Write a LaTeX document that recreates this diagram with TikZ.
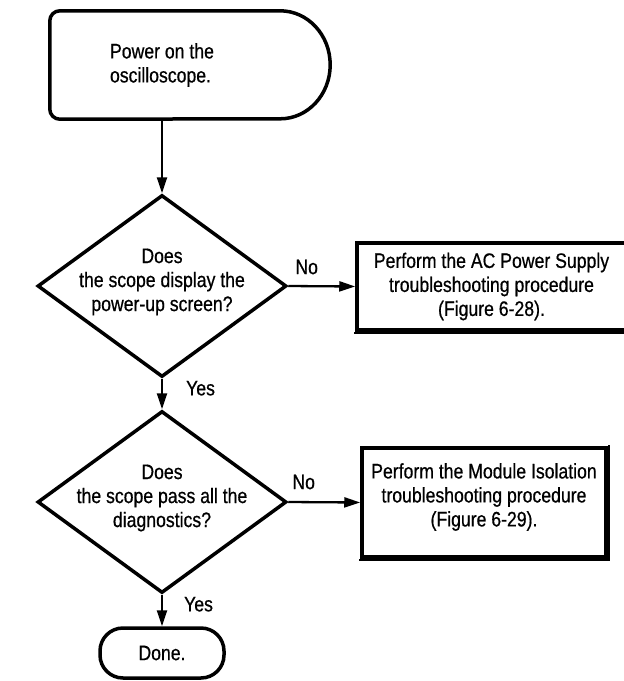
\documentclass[tikz,border=0pt]{standalone}
\usepackage{fontspec}
\setmainfont{Liberation Sans}[FakeStretch=0.84,FakeBold=0.6]
\usetikzlibrary{shapes.geometric,arrows.meta}

\tikzset{
  flow/.style={line width=3.5pt},
  decision/.style={flow,draw,diamond,minimum width=249pt,minimum height=182pt,inner sep=0pt},
  taskbox/.style={flow,draw,align=center,inner sep=0pt},
  qtext/.style={align=center,inner sep=0pt},
  arrow/.style={line width=2.3pt,-{Triangle[length=16pt,width=10pt]}},
  answer/.style={inner sep=0pt},
  shade edge/.style={line width=2pt,line cap=rect},
}

\begin{document}
\begin{tikzpicture}[x=1pt,y=-1pt,font=\fontsize{21}{24}\selectfont]
\useasboundingbox (0,0) rectangle (624,681);

% start terminal
\node[minimum width=280pt,minimum height=108pt,inner sep=0pt] (start) at (190,65) {};
\node[align=left,inner sep=0pt] (starttext) at (162,65) {Power on the\\oscilloscope.};
\draw[flow] ([xshift=10pt]start.north west) -- ([xshift=-50pt]start.north east)
  arc[start angle=90,end angle=-90,x radius=50pt,y radius=54pt]
  -- ([xshift=10pt]start.south west) arc[start angle=270,end angle=180,radius=10pt]
  -- ([yshift=-10pt]start.north west) arc[start angle=180,end angle=90,radius=10pt] -- cycle;

% decisions
\node[decision,label={[qtext,yshift=4pt]center:{Does\\the scope display the\\power-up screen?}}] (dec1) at (162,286) {};
\node[decision,label={[qtext,yshift=4pt]center:{Does\\the scope pass all the\\diagnostics?}}] (dec2) at (162,502) {};

% procedures
\node[taskbox,minimum width=269pt,minimum height=87pt] (box1) at (491.5,286.5)
  {Perform the AC Power Supply\\troubleshooting procedure\\(Figure 6-28).};
\node[taskbox,minimum width=244pt,minimum height=109pt,
  label={[qtext,yshift=5.5pt]center:{Perform the Module Isolation\\troubleshooting procedure\\(Figure 6-29).}}] (box2) at (484,502.5) {};
% heavier lower and right edges
\draw[shade edge] ([shift={(0pt,-1.5pt)}]box1.south west) -- ([shift={(0pt,-1.5pt)}]box1.south east);
\draw[shade edge] ([shift={(0pt,-1.5pt)}]box2.south west) -- ([shift={(1.5pt,-1.5pt)}]box2.south east)
  -- ([xshift=1.5pt]box2.north east);

% end terminal
\node[flow,draw,rounded corners=23pt,minimum width=124pt,minimum height=50pt] (done) at (162,653) {Done.};

% connectors
\draw[arrow] (start.south -| dec1.north) -- (dec1.north);
\draw[arrow] (dec1.east) -- node[answer,pos=0,anchor=south west,xshift=6pt,yshift=10.5pt] {No} (box1.west);
\draw[arrow] (dec1.south) -- node[answer,pos=0,anchor=north west,xshift=23pt,yshift=-1pt] {Yes} (dec2.north);
\draw[arrow] (dec2.east) -- node[answer,pos=0,anchor=south west,xshift=3pt,yshift=11.5pt] {No} (box2.west);
\draw[arrow] (dec2.south) -- node[answer,pos=0,anchor=north west,xshift=21pt,yshift=-1pt] {Yes} (done.north);
\end{tikzpicture}
\end{document}
